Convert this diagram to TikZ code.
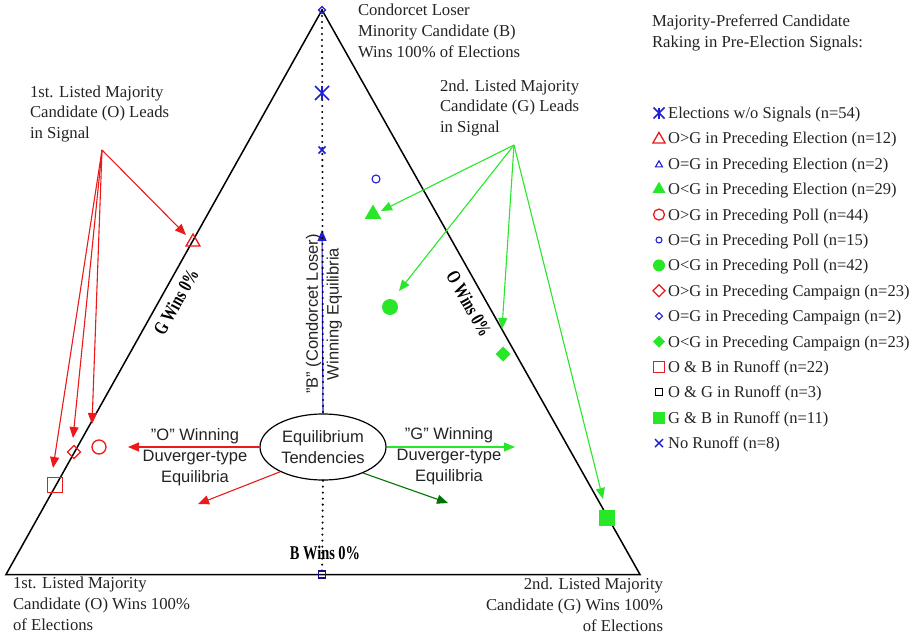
\documentclass[tikz,border=0pt]{standalone}
\usepackage{fontspec}
\setmainfont{Liberation Serif}
\setsansfont{Liberation Sans}
\usetikzlibrary{arrows.meta,shapes.geometric,shapes.misc}
\definecolor{cred}{RGB}{235,25,25}
\definecolor{cgreen}{RGB}{40,230,40}
\definecolor{cblue}{RGB}{30,30,210}
\definecolor{cdgreen}{RGB}{0,115,0}
\definecolor{txt}{RGB}{35,35,35}
\begin{document}
\begin{tikzpicture}[x=1pt,y=-1pt,
  lbl/.style={font=\fontsize{16.7}{20.8}\selectfont, text=txt, inner sep=0pt, outer sep=0pt},
  leg/.style={font=\fontsize{16.5}{20}\selectfont, text=txt, inner sep=0pt, anchor=base west},
  sanslbl/.style={font=\sffamily\fontsize{16.5}{20.8}\selectfont, text=txt, inner sep=0pt, align=center},
  edgelbl/.style={font=\bfseries\fontsize{19.5}{22}\selectfont, inner sep=0pt},
  arr/.style={line width=1.1pt, -{Triangle[length=11pt,width=9pt]}},
  dotax/.style={line width=2.3pt, dash pattern=on 0pt off 6pt, line cap=round},
  mk/.style={inner sep=0pt, outer sep=0pt, minimum size=#1},
  otri/.style={regular polygon, regular polygon sides=3, line width=1.3pt, mk=#1},
  ftri/.style={regular polygon, regular polygon sides=3, mk=#1},
  ocirc/.style={circle, line width=1.3pt, mk=#1},
  fcirc/.style={circle, mk=#1},
  odia/.style={diamond, line width=1.3pt, mk=#1},
  fdia/.style={diamond, mk=#1},
  osq/.style={rectangle, line width=1.3pt, mk=#1},
  fsq/.style={rectangle, mk=#1},
  xmk/.style={cross out, line width=1.6pt, mk=#1}
]
\useasboundingbox (0,0) rectangle (921,637);

% triangle
\coordinate (A) at (322,10);
\coordinate (Bl) at (6,574.5);
\coordinate (Cr) at (640,574.5);
\coordinate (Bot) at (322,574.5);
\draw[line width=1.5pt, line join=miter] (A) -- (Bl) -- (Cr) -- cycle;

% B winning arrow and dotted axis
\node[ellipse, draw, line width=1.2pt, fill=white, minimum width=126, minimum height=66, inner sep=0pt, sanslbl] (eq) at (323,447) {Equilibrium\\Tendencies};
\coordinate (btip) at (322,230);
\draw[cblue, arr] (eq.north) -- (btip);
\draw[dotax] (A) -- (eq.north);
\draw[dotax] (eq.south) -- (Bot);

\node[sanslbl, rotate=90] (blab) at (324,314) {"B" (Condorcet Loser)\\Winning Equilibria};

% equilibrium tendency arrows
\coordinate (otip) at (128,447);
\coordinate (otip2) at (198,504);
\coordinate (gtip) at (515,447);
\coordinate (gtip2) at (448,503);
\draw[cred, arr] (eq.west) -- (otip);
\draw[cred, arr] (eq.210) -- (otip2);
\draw[cgreen, arr] (eq.east) -- (gtip);
\draw[cdgreen, arr] (eq.-33) -- (gtip2);

\node[sanslbl] (olab) at (195,457) {"O" Winning\\Duverger-type\\Equilibria};
\node[sanslbl] (glab) at (449,456) {"G" Winning\\Duverger-type\\Equilibria};

% edge labels
\node[edgelbl, rotate=60.8] (gw) at (176,302) {\scalebox{0.74}[1]{G Wins 0\%}};
\node[edgelbl, rotate=-60.6] (ow) at (469,304) {\scalebox{0.74}[1]{O Wins 0\%}};
\node[edgelbl] (bw) at (325,553) {\scalebox{0.74}[1]{B Wins 0\%}};

% vertex labels
\node[lbl, align=left, anchor=north west] (topl) at (358,4) {Condorcet Loser\\Minority Candidate (B)\\Wins 100\% of Elections};
\node[lbl, align=left, anchor=north west] (ol) at (30,85.5) {1st. Listed Majority\\Candidate (O) Leads\\in Signal};
\node[lbl, align=left, anchor=north west] (gl) at (440,79.5) {2nd. Listed Majority\\Candidate (G) Leads\\in Signal};
\node[lbl, align=left, anchor=north west] (bll) at (13,577) {1st. Listed Majority\\Candidate (O) Wins 100\%\\of Elections};
\node[lbl, align=right, anchor=north east] (brl) at (663,578) {2nd. Listed Majority\\Candidate (G) Wins 100\%\\of Elections};

% data markers
\node[odia=7, draw=cblue, line width=1.2pt] (ptop) at (322,10) {};
\node[osq=7, draw=cblue!60!black, line width=1.2pt] (pbot) at (322,574.5) {};
\node[xmk=14, draw=cblue] (ast) at (322,93) {};
\draw[cblue, line width=1.6pt] (ast.north) -- (ast.south);
\node[xmk=7, draw=cblue] (bx) at (322,150) {};
\node[ocirc=8, draw=cblue, line width=1.1pt] (bcirc) at (376,179) {};
\node[ftri=19, fill=cgreen] (gtri) at (373,214) {};
\node[fcirc=16, fill=cgreen] (gcirc) at (390,307) {};
\node[fdia=15, fill=cgreen] (gdia) at (503,354) {};
\node[fsq=16, fill=cgreen] (gsq) at (607,518) {};
\node[otri=16, draw=cred] (rtri) at (193,242) {};
\node[ocirc=14, draw=cred] (rcirc) at (99,447) {};
\node[odia=13, draw=cred] (rdia) at (74,452) {};
\node[osq=15, draw=cred] (rsq) at (55,485) {};

% signal arrows
\coordinate (rsrc) at (102,150);
\coordinate (rt1) at (186,235);
\coordinate (rt2) at (53,468);
\coordinate (rt3) at (73,438);
\coordinate (rt4) at (92,424);
\draw[cred, arr] (rsrc) -- (rt1);
\draw[cred, arr] (rsrc) -- (rt2);
\draw[cred, arr] (rsrc) -- (rt3);
\draw[cred, arr] (rsrc) -- (rt4);
\coordinate (gsrc) at (514,145);
\coordinate (gt1) at (381,211);
\coordinate (gt2) at (399,291);
\coordinate (gt3) at (502,329);
\coordinate (gt4) at (603,499);
\draw[cgreen, arr] (gsrc) -- (gt1);
\draw[cgreen, arr] (gsrc) -- (gt2);
\draw[cgreen, arr] (gsrc) -- (gt3);
\draw[cgreen, arr] (gsrc) -- (gt4);

% legend
\node[lbl, align=left, anchor=north west] (legt) at (652,14.5) {Majority-Preferred Candidate\\Raking in Pre-Election Signals:};
\def\lx{659}
\node[xmk=11, draw=cblue] (m0) at (\lx,113.0) {};
\draw[cblue, line width=1.6pt] (m0.north) -- (m0.south);
\node[otri=14, draw=cred] (m1) at (\lx,139.4) {};
\node[otri=8, draw=cblue, line width=1.1pt] (m2) at (\lx,164.8) {};
\node[ftri=15, fill=cgreen] (m3) at (\lx,189.2) {};
\node[ocirc=11, draw=cred] (m4) at (\lx,214.6) {};
\node[ocirc=6, draw=cblue, line width=1.1pt] (m5) at (\lx,240.0) {};
\node[fcirc=12, fill=cgreen] (m6) at (\lx,265.4) {};
\node[odia=12, draw=cred] (m7) at (\lx,290.8) {};
\node[odia=7, draw=cblue, line width=1.1pt] (m8) at (\lx,316.2) {};
\node[fdia=12, fill=cgreen] (m9) at (\lx,341.6) {};
\node[osq=11, draw=cred] (m10) at (\lx,367.0) {};
\node[osq=7, draw=black, line width=1.1pt] (m11) at (\lx,392.4) {};
\node[fsq=12, fill=cgreen] (m12) at (\lx,417.8) {};
\node[xmk=8, draw=cblue, line width=1.4pt] (m13) at (\lx,443.2) {};
\def\tx{668}
\node[leg] (l0) at (\tx,118.5) {Elections w/o Signals (n=54)};
\node[leg] (l1) at (\tx,143.9) {O>G in Preceding Election (n=12)};
\node[leg] (l2) at (\tx,169.3) {O=G in Preceding Election (n=2)};
\node[leg] (l3) at (\tx,194.7) {O<G in Preceding Election (n=29)};
\node[leg] (l4) at (\tx,220.1) {O>G in Preceding Poll (n=44)};
\node[leg] (l5) at (\tx,245.5) {O=G in Preceding Poll (n=15)};
\node[leg] (l6) at (\tx,270.9) {O<G in Preceding Poll (n=42)};
\node[leg] (l7) at (\tx,296.3) {O>G in Preceding Campaign (n=23)};
\node[leg] (l8) at (\tx,321.7) {O=G in Preceding Campaign (n=2)};
\node[leg] (l9) at (\tx,347.1) {O<G in Preceding Campaign (n=23)};
\node[leg] (l10) at (\tx,372.5) {O \& B in Runoff (n=22)};
\node[leg] (l11) at (\tx,397.9) {O \& G in Runoff (n=3)};
\node[leg] (l12) at (\tx,423.3) {G \& B in Runoff (n=11)};
\node[leg] (l13) at (\tx,448.7) {No Runoff (n=8)};
\end{tikzpicture}
\end{document}
